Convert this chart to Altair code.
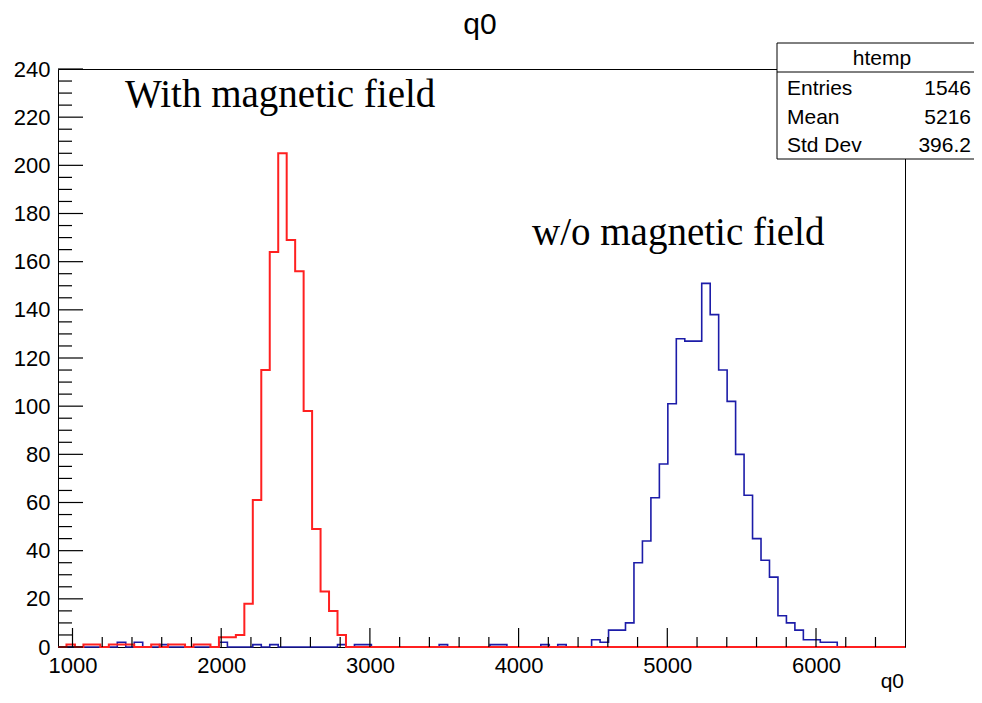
import altair as alt
import pandas as pd

# ---- histogram binning (axis range of htemp) ----
x_lo = 902.5
x_hi = 6598.5
n_bins = 100

# ---- bin contents (bin index -> count) ----
red_bins = {1: 1, 3: 1, 4: 1, 6: 1, 7: 1, 8: 1, 11: 1, 13: 1, 14: 1, 16: 1, 17: 1,
            19: 4, 20: 4, 21: 5, 22: 18, 23: 61, 24: 115, 25: 164, 26: 205,
            27: 169, 28: 156, 29: 98, 30: 49, 31: 23, 32: 15, 33: 5}
blue_bins = {7: 2, 9: 2, 12: 1, 19: 2, 23: 1, 25: 1, 33: 1, 35: 1, 36: 1, 45: 1,
             51: 1, 52: 1, 57: 1, 59: 1, 63: 3, 64: 2, 65: 7, 66: 7, 67: 10,
             68: 35, 69: 44, 70: 62, 71: 76, 72: 101, 73: 128, 74: 127, 75: 127,
             76: 151, 77: 138, 78: 115, 79: 102, 80: 80, 81: 63, 82: 45, 83: 36,
             84: 29, 85: 13, 86: 10, 87: 7, 88: 3, 89: 3, 90: 2, 91: 2}

x_major = [1000, 2000, 3000, 4000, 5000, 6000]
x_minor = [v for v in range(1000, 6401, 200) if v % 1000 != 0]
y_major = list(range(0, 241, 20))
y_minor = [v for v in range(0, 241, 5) if v % 20 != 0]

stats_names = ["Entries", "Mean", "Std Dev"]
stats_vals = ["1546", "5216", "396.2"]

W, H = 847, 578
bw = (x_hi - x_lo) / n_bins


def step_df(bins):
    xs, ys = [], []
    for i in range(n_bins):
        xs.append(x_lo + i * bw)
        ys.append(bins.get(i, 0))
    xs.append(x_hi)
    ys.append(bins.get(n_bins - 1, 0))
    return pd.DataFrame({"x": xs, "y": ys})


FONT = "Liberation Sans"
SERIF = "Liberation Serif"

xscale = alt.Scale(domain=[x_lo, x_hi], nice=False, zero=False)
yscale = alt.Scale(domain=[0, 240], nice=False, zero=True)
xaxis = alt.Axis(values=x_major, format="d", ticks=False, domain=False, grid=False,
                 labelFont=FONT, labelFontSize=22, labelColor="black",
                 labelPadding=8, title=None, labelFlush=False)
yaxis = alt.Axis(values=y_major, format="d", ticks=False, domain=False, grid=False,
                 labelFont=FONT, labelFontSize=22, labelColor="black",
                 labelPadding=8, title=None)

blue = alt.Chart(step_df(blue_bins)).mark_line(
    interpolate="step-after", color="#1c1ca8", strokeWidth=1.6
).encode(
    x=alt.X("x:Q", scale=xscale, axis=xaxis),
    y=alt.Y("y:Q", scale=yscale, axis=yaxis),
)

red = alt.Chart(step_df(red_bins)).mark_line(
    interpolate="step-after", color="#ff2020", strokeWidth=2
).encode(
    x=alt.X("x:Q", scale=xscale, axis=xaxis),
    y=alt.Y("y:Q", scale=yscale, axis=yaxis),
)

xmaj = alt.Chart(pd.DataFrame({"x": x_major})).mark_rule(color="black", strokeWidth=1.2).encode(
    x=alt.X("x:Q", scale=xscale, axis=xaxis), y=alt.value(H), y2=alt.value(H - 19))
xmin = alt.Chart(pd.DataFrame({"x": x_minor})).mark_rule(color="black", strokeWidth=1.2).encode(
    x=alt.X("x:Q", scale=xscale, axis=xaxis), y=alt.value(H), y2=alt.value(H - 10))
ymaj = alt.Chart(pd.DataFrame({"y": y_major})).mark_rule(color="black", strokeWidth=1.2).encode(
    y=alt.Y("y:Q", scale=yscale, axis=yaxis), x=alt.value(0), x2=alt.value(25))
ymin = alt.Chart(pd.DataFrame({"y": y_minor})).mark_rule(color="black", strokeWidth=1.2).encode(
    y=alt.Y("y:Q", scale=yscale, axis=yaxis), x=alt.value(0), x2=alt.value(14))


def label(text, x, y, size, font=FONT, align="left"):
    return alt.Chart(pd.DataFrame({"t": [text]})).mark_text(
        font=font, fontSize=size, align=align, baseline="alphabetic", color="black"
    ).encode(x=alt.value(x), y=alt.value(y), text="t:N")


title = label("q0", 422, -35, 30, align="center")
xtitle = label("q0", 846, 619, 21, align="right")
ann1 = label("With magnetic field", 67, 38, 39, font=SERIF)
ann2 = label("w/o magnetic field", 474, 176, 39, font=SERIF)

box = alt.Chart(pd.DataFrame({"a": [0]})).mark_rect(
    fill="white", stroke="black", strokeWidth=1
).encode(x=alt.value(719), x2=alt.value(940), y=alt.value(-26), y2=alt.value(90))
sep = alt.Chart(pd.DataFrame({"a": [0]})).mark_rule(color="black", strokeWidth=1).encode(
    x=alt.value(719), x2=alt.value(940), y=alt.value(3))
hdr = label("htemp", 824, -4, 21, align="center")

stat_layers = []
for k, (n, v) in enumerate(zip(stats_names, stats_vals)):
    yy = 26 + k * 28.5
    stat_layers.append(label(n, 729, yy, 21))
    stat_layers.append(label(v, 913, yy, 21, align="right"))

chart = alt.layer(
    blue, red, xmaj, xmin, ymaj, ymin, title, xtitle, ann1, ann2,
    box, sep, hdr, *stat_layers
).properties(
    width=W, height=H,
    autosize=alt.AutoSizeParams(type="none"),
    padding={"left": 50, "top": 61, "right": 69, "bottom": 48},
    background="white",
).configure_view(stroke="black", strokeWidth=1)

chart.save("out.html", embed_options={"renderer": "svg", "actions": False})
